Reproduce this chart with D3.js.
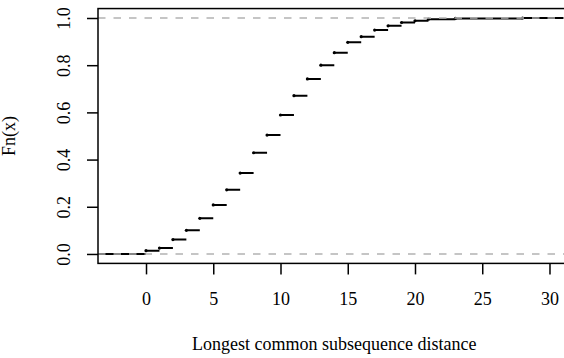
<!DOCTYPE html>
<html>
<head>
<meta charset="utf-8">
<script src="https://cdn.jsdelivr.net/npm/d3@7"></script>
<style>
  html, body { margin: 0; padding: 0; background: #fff; }
  svg { display: block; }
</style>
</head>
<body>
<svg id="chart" width="564" height="358"></svg>
<script>
const knotX = [0, 1, 2, 3, 4, 5, 6, 7, 8, 9, 10, 11, 12, 13, 14, 15, 16, 17, 18, 19, 20, 21, 23, 28];
const knotY = [0.014, 0.025, 0.061, 0.100, 0.151, 0.208, 0.272, 0.343, 0.429, 0.504, 0.589, 0.671, 0.742, 0.800, 0.853, 0.897, 0.921, 0.949, 0.967, 0.981, 0.988, 0.995, 0.998, 1.0];
const xTicks = [0, 5, 10, 15, 20, 25, 30];
const yTicks = [0, 0.2, 0.4, 0.6, 0.8, 1.0];
const refLines = [0, 1];
const xLabel = "Longest common subsequence distance";
const yLabel = "Fn(x)";

const FONT = '"Liberation Serif", Tinos, "Times New Roman", serif';
const svg = d3.select("#chart");
const box = { left: 98, right: 570.6, top: 8.56, bottom: 263.4 };

const x = d3.scaleLinear().domain([-3.57, 31.57]).range([box.left, box.right]);
const y = d3.scaleLinear().domain([-0.04, 1.04]).range([box.bottom, box.top]);

svg.append("defs").append("clipPath").attr("id", "plotclip")
  .append("rect").attr("x", box.left).attr("y", box.top)
  .attr("width", box.right - box.left).attr("height", box.bottom - box.top);

const g = svg.append("g").attr("clip-path", "url(#plotclip)");

// step segments
const xmin = x.domain()[0], xmax = x.domain()[1];
const segs = [{x0: xmin - 1, x1: knotX[0], y: 0}];
knotX.forEach((k, i) => {
  segs.push({x0: k, x1: i < knotX.length - 1 ? knotX[i + 1] : xmax + 1, y: knotY[i]});
});
g.selectAll("line.seg").data(segs).join("line")
  .attr("class", "seg")
  .attr("x1", d => x(d.x0)).attr("x2", d => x(d.x1))
  .attr("y1", d => y(d.y)).attr("y2", d => y(d.y))
  .attr("stroke", "#000").attr("stroke-width", 2);

g.selectAll("circle.pt").data(knotX).join("circle")
  .attr("class", "pt")
  .attr("cx", d => x(d)).attr("cy", (d, i) => y(knotY[i]))
  .attr("r", 1.6).attr("fill", "#000");

// reference dashed lines
g.selectAll("line.ref").data(refLines).join("line")
  .attr("class", "ref")
  .attr("x1", box.left).attr("x2", box.right)
  .attr("y1", d => y(d)).attr("y2", d => y(d))
  .attr("stroke", "#b3b3b3").attr("stroke-width", 1.5)
  .attr("stroke-dasharray", "7.5,8");

// box
svg.append("rect").attr("x", box.left).attr("y", box.top)
  .attr("width", box.right - box.left).attr("height", box.bottom - box.top)
  .attr("fill", "none").attr("stroke", "#000").attr("stroke-width", 1.5);

// x axis
const xAxis = d3.axisBottom(x).tickValues(xTicks).tickSize(11).tickFormat(d3.format("d"));
const gx = svg.append("g").attr("transform", `translate(0,${box.bottom})`).call(xAxis);
gx.select(".domain").remove();
gx.selectAll(".tick line").attr("stroke-width", 1.5);
gx.selectAll(".tick text")
  .style("font-family", FONT).style("font-size", "18px")
  .attr("dy", null).attr("y", 41.6);

// y axis
const yAxis = d3.axisLeft(y).tickValues(yTicks).tickSize(11).tickFormat(d3.format(".1f"));
const gy = svg.append("g").attr("transform", `translate(${box.left},0)`).call(yAxis);
gy.select(".domain").remove();
gy.selectAll(".tick line").attr("stroke-width", 1.5);
gy.selectAll(".tick text")
  .style("font-family", FONT).style("font-size", "18px")
  .attr("x", null).attr("dy", null).attr("y", 0)
  .attr("text-anchor", "middle")
  .attr("transform", "translate(-28,0) rotate(-90)");

// labels
svg.append("text").attr("x", (box.left + box.right) / 2).attr("y", 349.5)
  .attr("text-anchor", "middle")
  .style("font-family", FONT).style("font-size", "18px").text(xLabel);
svg.append("text").attr("transform", `translate(14.5,${(box.top + box.bottom) / 2}) rotate(-90)`)
  .attr("text-anchor", "middle")
  .style("font-family", FONT).style("font-size", "18px").text(yLabel);
</script>
</body>
</html>
